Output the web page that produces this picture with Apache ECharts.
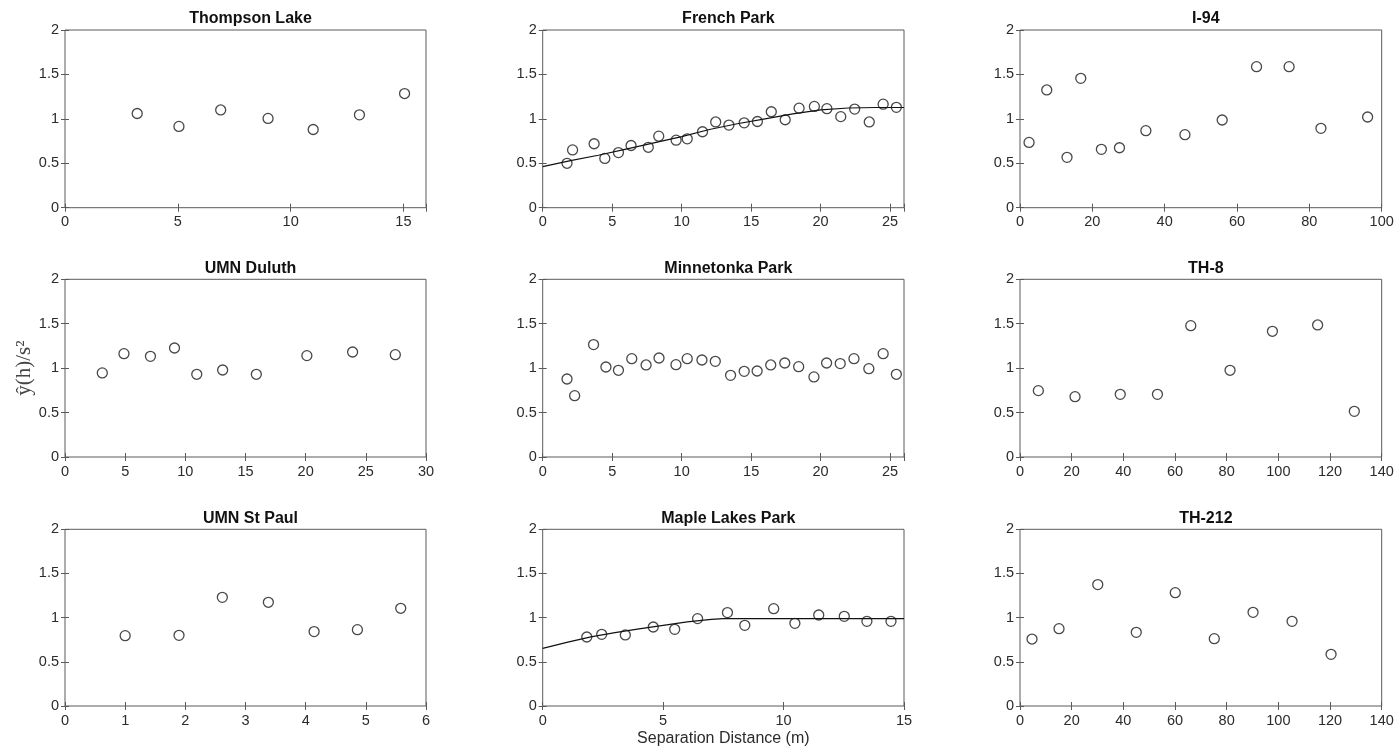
<!DOCTYPE html>
<html>
<head>
<meta charset="utf-8">
<script src="https://cdn.jsdelivr.net/npm/echarts@6/dist/echarts.min.js"></script>
<style>
  html, body { margin: 0; padding: 0; background: #fff; }
  #chart { width: 1399px; height: 756px; }
</style>
</head>
<body>
<div id="chart"></div>
<script>
// ---------- data ----------
const titles = ['Thompson Lake', 'French Park', 'I-94', 'UMN Duluth', 'Minnetonka Park', 'TH-8', 'UMN St Paul', 'Maple Lakes Park', 'TH-212'];

const thompsonX = [3.2, 5.05, 6.9, 9.0, 11.0, 13.05, 15.05];
const thompsonY = [1.06, 0.915, 1.10, 1.005, 0.88, 1.045, 1.285];

const frenchX = [1.75, 2.15, 3.7, 4.47, 5.45, 6.36, 7.6, 8.35, 9.6, 10.4, 11.5, 12.45, 13.4, 14.5, 15.45, 16.45, 17.45, 18.45, 19.55, 20.45, 21.45, 22.45, 23.5, 24.5, 25.45];
const frenchY = [0.50, 0.65, 0.72, 0.555, 0.62, 0.70, 0.68, 0.805, 0.76, 0.775, 0.855, 0.965, 0.93, 0.955, 0.97, 1.08, 0.99, 1.12, 1.14, 1.115, 1.025, 1.11, 0.965, 1.165, 1.13];
const frenchFitX = [0, 2, 4, 6, 8, 10, 12, 14, 16, 18, 20, 22, 24, 26];
const frenchFitY = [0.463, 0.53, 0.59, 0.66, 0.73, 0.80, 0.88, 0.945, 1.0, 1.055, 1.10, 1.122, 1.128, 1.128];

const i94X = [2.5, 7.4, 13.0, 16.8, 22.5, 27.5, 34.8, 45.6, 55.9, 65.4, 74.4, 83.2, 96.1];
const i94Y = [0.735, 1.325, 0.567, 1.456, 0.657, 0.675, 0.867, 0.822, 0.987, 1.587, 1.587, 0.893, 1.021];

const duluthX = [3.1, 4.9, 7.1, 9.1, 10.95, 13.1, 15.9, 20.1, 23.9, 27.45];
const duluthY = [0.946, 1.163, 1.133, 1.227, 0.931, 0.979, 0.931, 1.141, 1.182, 1.152];

const minnetonkaX = [1.75, 2.3, 3.66, 4.55, 5.45, 6.41, 7.44, 8.37, 9.59, 10.4, 11.46, 12.42, 13.52, 14.5, 15.43, 16.41, 17.42, 18.42, 19.52, 20.43, 21.41, 22.4, 23.47, 24.5, 25.45];
const minnetonkaY = [0.878, 0.690, 1.265, 1.013, 0.976, 1.107, 1.036, 1.114, 1.039, 1.107, 1.092, 1.077, 0.919, 0.964, 0.968, 1.036, 1.058, 1.017, 0.901, 1.058, 1.051, 1.107, 0.994, 1.163, 0.931];

const th8X = [7.1, 21.3, 38.8, 53.2, 66.1, 81.3, 97.7, 115.2, 129.4];
const th8Y = [0.747, 0.679, 0.705, 0.705, 1.478, 0.976, 1.415, 1.486, 0.514];

const stPaulX = [1.0, 1.895, 2.615, 3.38, 4.14, 4.86, 5.58];
const stPaulY = [0.796, 0.800, 1.230, 1.174, 0.842, 0.864, 1.106];

const mapleX = [1.83, 2.45, 3.43, 4.59, 5.48, 6.43, 7.67, 8.39, 9.59, 10.47, 11.46, 12.52, 13.46, 14.46];
const mapleY = [0.781, 0.811, 0.804, 0.894, 0.868, 0.989, 1.057, 0.913, 1.102, 0.936, 1.030, 1.015, 0.958, 0.958];
const mapleFitX = [0, 1, 2, 3, 4, 5, 6, 7, 7.5, 8, 10, 12, 14, 15];
const mapleFitY = [0.652, 0.72, 0.782, 0.83, 0.872, 0.912, 0.952, 0.98, 0.99, 0.99, 0.99, 0.99, 0.99, 0.99];

const th212X = [4.65, 15.1, 30.1, 45.0, 60.1, 75.2, 90.2, 105.3, 120.4];
const th212Y = [0.758, 0.875, 1.374, 0.834, 1.283, 0.762, 1.060, 0.958, 0.585];

const xMaxes = [16, 26, 100, 30, 26, 140, 6, 15, 140];
const xIntervals = [5, 5, 20, 5, 5, 20, 1, 5, 20];
const yTicks = [0, 0.5, 1, 1.5, 2];

const yLabel = 'ŷ(h)/s²';
const xLabel = 'Separation Distance (m)';

// ---------- layout ----------
const panelData = [
  [thompsonX, thompsonY, null, null],
  [frenchX, frenchY, frenchFitX, frenchFitY],
  [i94X, i94Y, null, null],
  [duluthX, duluthY, null, null],
  [minnetonkaX, minnetonkaY, null, null],
  [th8X, th8Y, null, null],
  [stPaulX, stPaulY, null, null],
  [mapleX, mapleY, mapleFitX, mapleFitY],
  [th212X, th212Y, null, null]
];
const colLeft = [65, 542.7, 1020];
const colWidth = [361, 361.3, 361.7];
const rowTop = [30, 279.3, 529.3];
const rowHeight = [177.7, 177.7, 176.7];

const FONT = "'Liberation Sans', Arial, Helvetica, sans-serif";
const TXT = '#2b2b2b';
const AX = '#5a5a5a';

const grids = [], xAxes = [], yAxes = [], series = [], titleList = [];

panelData.forEach((p, i) => {
  const r = Math.floor(i / 3), c = i % 3;
  grids.push({ left: colLeft[c], top: rowTop[r], width: colWidth[c], height: rowHeight[r],
               show: true, borderColor: AX, borderWidth: 1, backgroundColor: '#fff', containLabel: false });
  titleList.push({ text: titles[i], left: colLeft[c] + colWidth[c] / 2, top: rowTop[r] - 24, textAlign: 'center',
                   textStyle: { fontFamily: FONT, fontSize: 16, fontWeight: 'bold', color: '#111' } });
  const inter = xIntervals[i];
  const baseX = {
    type: 'value', gridIndex: i, min: 0, max: xMaxes[i], interval: inter,
    axisLine: { show: false }, splitLine: { show: false },
    axisTick: { show: true, inside: true, length: 4, lineStyle: { color: AX } }
  };
  xAxes.push(Object.assign({}, baseX, {
    position: 'bottom',
    axisLabel: { show: true, margin: 7, color: TXT, fontFamily: FONT, fontSize: 14.5,
                 formatter: v => (Math.abs(v / inter - Math.round(v / inter)) < 1e-9 ? String(v) : '') },
    name: i === 7 ? xLabel : '', nameLocation: 'middle', nameGap: 25,
    nameTextStyle: { fontFamily: FONT, fontSize: 16, color: TXT }
  }));
  xAxes.push(Object.assign({}, baseX, { position: 'top', axisLabel: { show: false } }));
  const baseY = {
    type: 'value', gridIndex: i, min: 0, max: 2, interval: 0.5,
    axisLine: { show: false }, splitLine: { show: false },
    axisTick: { show: true, inside: true, length: 4, lineStyle: { color: AX } }
  };
  yAxes.push(Object.assign({}, baseY, {
    position: 'left',
    axisLabel: { show: true, margin: 6, color: TXT, fontFamily: FONT, fontSize: 14.5 },
    name: i === 3 ? yLabel : '', nameLocation: 'middle', nameGap: 27,
    nameTextStyle: { fontFamily: "'Liberation Serif', 'DejaVu Serif', serif", fontSize: 21, color: '#444' }
  }));
  yAxes.push(Object.assign({}, baseY, { position: 'right', axisLabel: { show: false } }));

  if (p[2]) {
    series.push({
      type: 'line', xAxisIndex: 2 * i, yAxisIndex: 2 * i,
      data: p[2].map((v, k) => [v, p[3][k]]),
      showSymbol: false, symbol: 'none', lineStyle: { color: '#111', width: 1.2 },
      silent: true, z: 2
    });
  }
  series.push({
    type: 'scatter', xAxisIndex: 2 * i, yAxisIndex: 2 * i,
    data: p[0].map((v, k) => [v, p[1][k]]),
    symbol: 'circle', symbolSize: 10,
    itemStyle: { color: 'rgba(0,0,0,0)', borderColor: '#1a1a1a', borderWidth: 1.3 },
    silent: true, z: 3
  });
});

const chart = echarts.init(document.getElementById('chart'), null, { renderer: 'canvas' });
chart.setOption({
  backgroundColor: '#fff',
  animation: false,
  title: titleList,
  grid: grids,
  xAxis: xAxes,
  yAxis: yAxes,
  series: series
});
</script>
</body>
</html>
